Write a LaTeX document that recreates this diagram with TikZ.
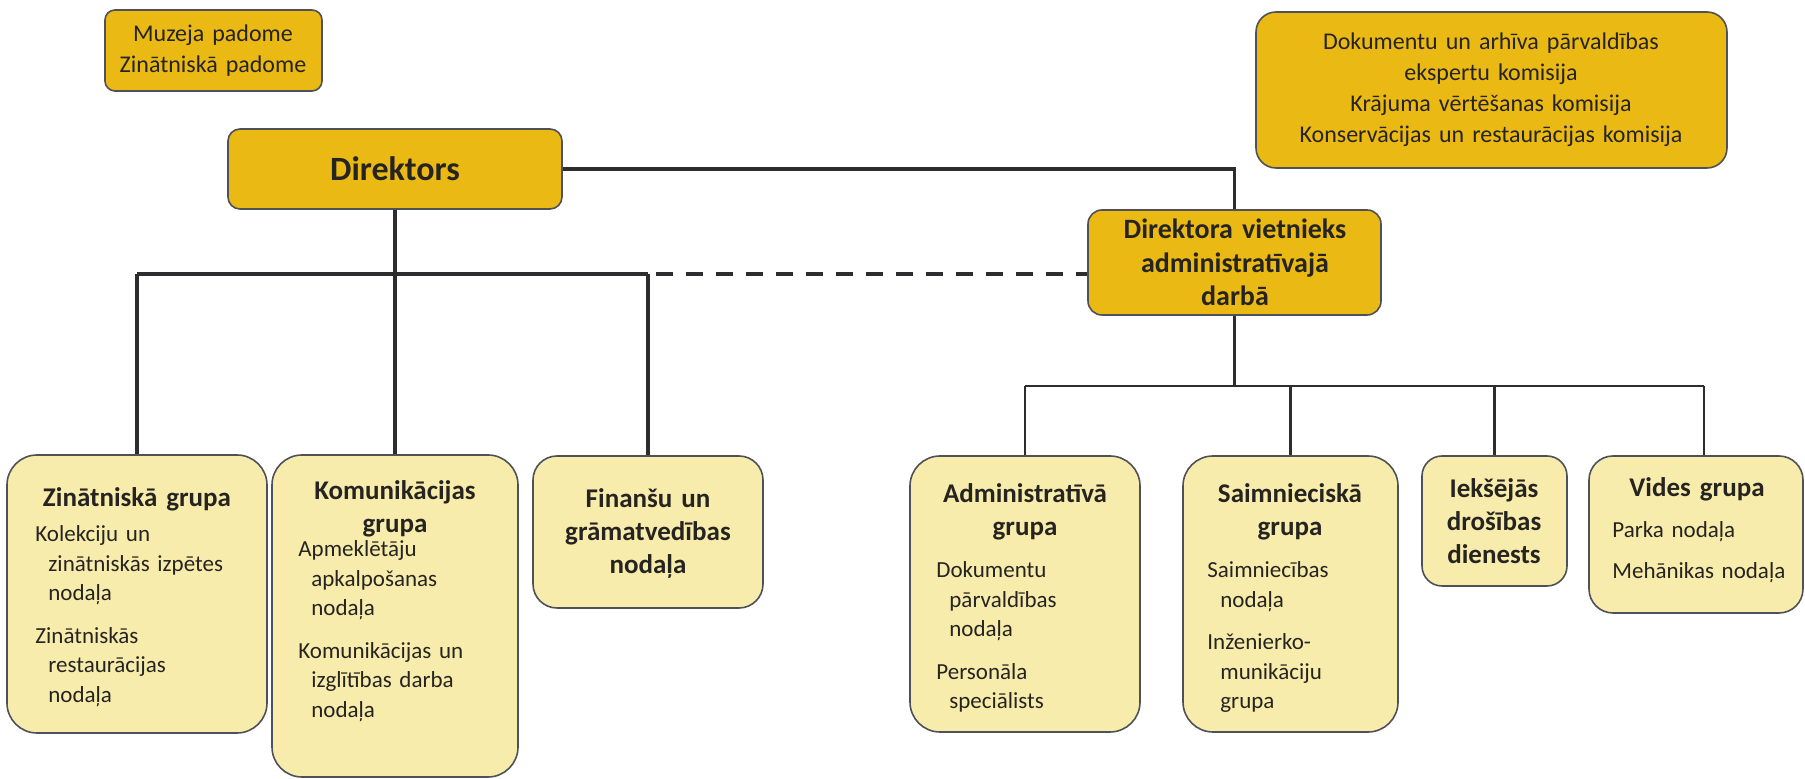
\documentclass[tikz,border=0pt]{standalone}
\usepackage{fontspec}
\setmainfont{Carlito}
\usetikzlibrary{fit}
\definecolor{gold}{RGB}{234,185,20}
\definecolor{pale}{RGB}{248,236,172}
\definecolor{edge}{RGB}{78,82,88}
\definecolor{ink}{RGB}{38,36,32}
\definecolor{wire}{RGB}{45,45,48}
\newcommand\ind{\hspace*{6.5pt}}
\begin{document}
\begin{tikzpicture}[x=0.5pt,y=-0.5pt,
  topbox/.style={draw=edge, line width=0.8pt, fill=gold, inner sep=0pt, rounded corners=#1},
  topbox/.default=6pt,
  lowbox/.style={draw=edge, line width=0.8pt, fill=pale, inner sep=0pt, rounded corners=#1},
  lowbox/.default=15pt,
  tt/.style={inner sep=0pt, text=ink, align=center, text width=#1, font=\fontsize{12}{15.5}\selectfont},
  hd/.style={inner sep=0pt, text=ink, align=center, text width=#1, font=\fontsize{13.5}{16.5}\selectfont\bfseries},
  vh/.style={inner sep=0pt, text=ink, align=center, text width=#1, font=\fontsize{14}{16.75}\selectfont\bfseries},
  bd/.style={inner sep=0pt, text=ink, align=left, text width=#1, font=\fontsize{11.5}{14.75}\selectfont},
  conn/.style={draw=wire, line width=1.7pt},
  thin/.style={draw=wire, line width=1.1pt},
  dashconn/.style={draw=wire, line width=1.7pt, dash pattern=on 8.5pt off 6.5pt}]
\fill[white] (0,0) rectangle (1805,779);
\useasboundingbox (0,0) rectangle (1805,779);

% ---- top boxes ----
\node[topbox=5pt, fit={(105,10) (322,91)}] (muz) {};
\node[tt=110pt, anchor=base] (muzt) at (213,42) {Muzeja padome\\Zinātniskā padome};

\node[topbox=6pt, fit={(228,129) (562,209)}] (dir) {};
\node[inner sep=0pt, text=ink, font=\fontsize{17}{20}\selectfont\bfseries] (dirt) at (dir.center) {Direktors};

\node[topbox=10pt, fit={(1256,12) (1727,168)}] (kom1) {};
\node[tt=225pt, anchor=base] (kom1t) at (1491,50) {Dokumentu un arhīva pārvaldības\\ekspertu komisija\\Krājuma vērtēšanas komisija\\Konservācijas un restaurācijas komisija};

\node[topbox=7pt, fit={(1088,210) (1381,315)}] (viet) {};
\node[vh=140pt, anchor=base] (viett) at (1235,239) {Direktora vietnieks\\administratīvajā\\darbā};

% ---- bottom boxes ----
\node[lowbox=15pt, fit={(7,455) (267,733)}] (zin) {};
\node[hd=125pt, anchor=base] (zinh) at (137,507) {Zinātniskā grupa};
\node[bd=112pt, anchor=base west] (zinb) at (35,542) {Kolekciju un\\\ind zinātniskās izpētes\\\ind nodaļa\\[6.5pt]Zinātniskās\\\ind restaurācijas\\\ind nodaļa};

\node[lowbox=15pt, fit={(272,455) (518,777)}] (kom) {};
\node[hd=120pt, anchor=base] (komh) at (395,500) {Komunikācijas\\grupa};
\node[bd=105pt, anchor=base west] (komb) at (298,557) {Apmeklētāju\\\ind apkalpošanas\\\ind nodaļa\\[6.5pt]Komunikācijas un\\\ind izglītības darba\\\ind nodaļa};

\node[lowbox=12pt, fit={(533,456) (763,608)}] (fin) {};
\node[hd=110pt, anchor=base] (finh) at (648,508) {Finanšu un\\grāmatvedības\\nodaļa};

\node[lowbox=15pt, fit={(910,456) (1140,732)}] (adm) {};
\node[hd=110pt, anchor=base] (admh) at (1025,503) {Administratīvā\\grupa};
\node[bd=95pt, anchor=base west] (admb) at (936,578) {Dokumentu\\\ind pārvaldības\\\ind nodaļa\\[6.5pt]Personāla\\\ind speciālists};

\node[lowbox=15pt, fit={(1183,456) (1398,732)}] (saim) {};
\node[hd=105pt, anchor=base] (saimh) at (1290,503) {Saimnieciskā\\grupa};
\node[bd=85pt, anchor=base west] (saimb) at (1207,578) {Saimniecības\\\ind nodaļa\\[6.5pt]Inženierko-\\\ind munikāciju\\\ind grupa};

\node[lowbox=10pt, fit={(1422,456) (1567,586)}] (iek) {};
\node[hd=70pt, anchor=base] (iekh) at (1494,498) {Iekšējās\\drošības\\dienests};

\node[lowbox=12pt, fit={(1589,456) (1803,613)}] (vid) {};
\node[hd=100pt, anchor=base] (vidh) at (1697,497) {Vides grupa};
\node[bd=95pt, anchor=base west] (vidb) at (1612,538) {Parka nodaļa\\[5.5pt]Mehānikas nodaļa};

% ---- connectors ----
\coordinate (busA) at (0,274);
\coordinate (busB) at (0,386);
\coordinate (vidtap) at (1704,386);

\draw[conn] (dir.east) -- (dir.east -| viet.north) -- (viet.north);
\draw[conn] (dir.south) -- (dir.south |- busA);
\draw[conn] (zin.north |- busA) -- (fin.north |- busA);
\draw[conn] (zin.north |- busA) -- (zin.north);
\draw[conn] (kom.north |- busA) -- (kom.north);
\draw[conn] (fin.north |- busA) -- (fin.north);
\draw[dashconn] (fin.north |- busA) ++(8,0) -- (busA -| viet.west);

\draw[thin] (viet.south) -- (viet.south |- busB);
\draw[thin] (adm.north |- busB) -- (vidtap);
\draw[thin] (adm.north |- busB) -- (adm.north);
\draw[thin] (saim.north |- busB) -- (saim.north);
\draw[thin] (iek.north |- busB) -- (iek.north);
\draw[thin] (vidtap) -- (vidtap |- vid.north);
\end{tikzpicture}
\end{document}
